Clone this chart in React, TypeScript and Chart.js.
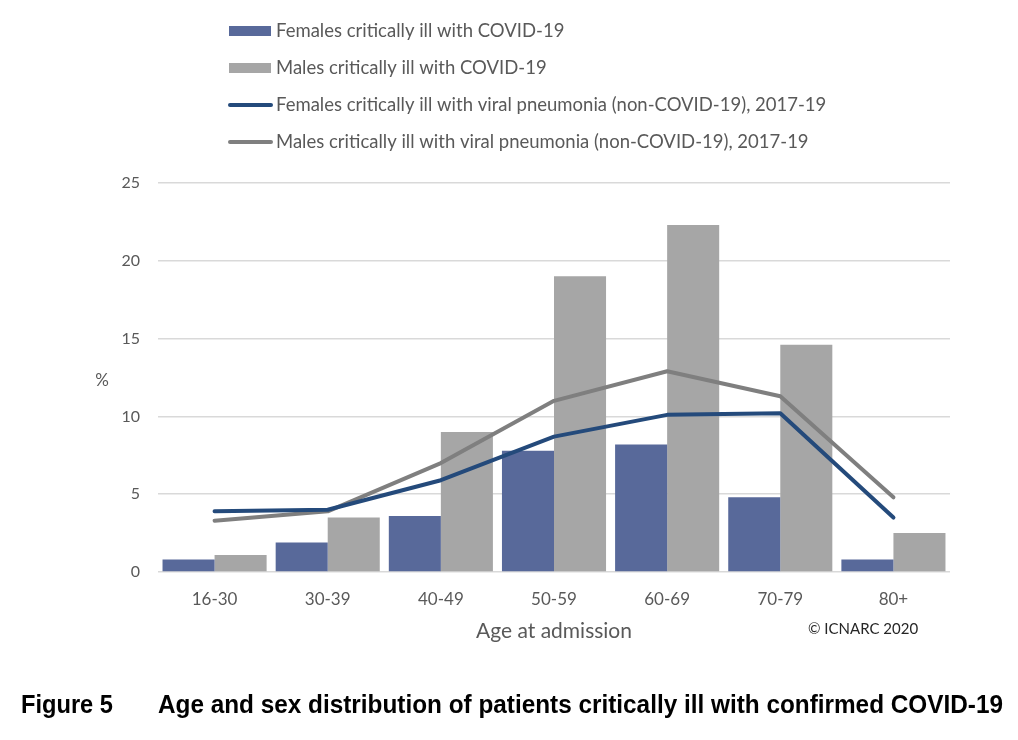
import React, { useEffect, useRef } from "react";
import { Chart, registerables } from "chart.js";

Chart.register(...registerables);

const categories = ["16-30", "30-39", "40-49", "50-59", "60-69", "70-79", "80+"];
const femalesCovid = [0.8, 1.9, 3.6, 7.8, 8.2, 4.8, 0.8];
const malesCovid = [1.1, 3.5, 9.0, 19.0, 22.3, 14.6, 2.5];
const femalesPneumonia = [3.9, 4.0, 5.9, 8.7, 10.1, 10.2, 3.5];
const malesPneumonia = [3.3, 3.9, 7.0, 11.0, 12.9, 11.3, 4.8];
const yTicks = [0, 5, 10, 15, 20, 25];

const seriesLabels = [
  "Females critically ill with COVID-19",
  "Males critically ill with COVID-19",
  "Females critically ill with viral pneumonia (non-COVID-19), 2017-19",
  "Males critically ill with viral pneumonia (non-COVID-19), 2017-19",
];

const FEMALE_BAR = "#58699A";
const MALE_BAR = "#A6A6A6";
const FEMALE_LINE = "#244A7B";
const MALE_LINE = "#7F7F7F";
const TEXT = "#595959";

function fitText(ctx: any, text: string, x: number, y: number, width: number) {
  const w = ctx.measureText(text).width;
  ctx.save();
  ctx.translate(x, y);
  ctx.scale(width / w, 1);
  ctx.fillText(text, 0, 0);
  ctx.restore();
}

const extrasPlugin = {
  id: "extras",
  beforeDraw(chart: any) {
    const ctx = chart.ctx;
    ctx.save();
    ctx.fillStyle = "#ffffff";
    ctx.fillRect(0, 0, chart.width, chart.height);
    ctx.restore();
  },
  afterDraw(chart: any) {
    const ctx = chart.ctx;
    ctx.save();
    // legend
    const rows = [31, 68, 105, 142];
    chart.data.datasets.forEach((ds: any, i: number) => {
      const y = rows[i];
      if (ds.type === "line") {
        ctx.strokeStyle = ds.borderColor;
        ctx.lineWidth = 4;
        ctx.lineCap = "round";
        ctx.beginPath();
        ctx.moveTo(230, y);
        ctx.lineTo(271, y);
        ctx.stroke();
      } else {
        ctx.fillStyle = ds.backgroundColor;
        ctx.fillRect(229, y - 5, 42, 10);
      }
      ctx.fillStyle = TEXT;
      ctx.font = "18.5px Lato";
      ctx.textBaseline = "middle";
      ctx.textAlign = "left";
      ctx.fillText(ds.label, 276, y);
    });
    // y axis title
    ctx.fillStyle = TEXT;
    ctx.font = "17px Lato";
    ctx.textAlign = "center";
    ctx.textBaseline = "middle";
    ctx.fillText("%", 102, 381);
    // copyright
    ctx.fillStyle = "#262626";
    ctx.font = "15px Lato";
    ctx.textAlign = "left";
    ctx.fillText("\u00A9 ICNARC 2020", 808, 629);
    // caption
    ctx.fillStyle = "#000000";
    ctx.font = "bold 25px 'Liberation Sans'";
    ctx.textAlign = "left";
    ctx.textBaseline = "alphabetic";
    fitText(ctx, "Figure 5", 21, 713, 92);
    fitText(
      ctx,
      "Age and sex distribution of patients critically ill with confirmed COVID-19",
      158,
      713,
      845
    );
    ctx.restore();
  },
};

export default function App() {
  const ref = useRef<HTMLCanvasElement | null>(null);

  useEffect(() => {
    document.body.style.margin = "0";
    const canvas = ref.current;
    if (!canvas) return;
    const chart = new Chart(canvas, {
      type: "bar",
      data: {
        labels: categories,
        datasets: [
          {
            type: "bar",
            label: seriesLabels[0],
            data: femalesCovid,
            backgroundColor: FEMALE_BAR,
            categoryPercentage: 0.92,
            barPercentage: 1.0,
            order: 1,
          },
          {
            type: "bar",
            label: seriesLabels[1],
            data: malesCovid,
            backgroundColor: MALE_BAR,
            categoryPercentage: 0.92,
            barPercentage: 1.0,
            order: 1,
          },
          {
            type: "line",
            label: seriesLabels[2],
            data: femalesPneumonia,
            borderColor: FEMALE_LINE,
            backgroundColor: FEMALE_LINE,
            borderWidth: 4,
            pointRadius: 0,
            tension: 0,
            borderCapStyle: "round",
            borderJoinStyle: "round",
            order: 0,
          },
          {
            type: "line",
            label: seriesLabels[3],
            data: malesPneumonia,
            borderColor: MALE_LINE,
            backgroundColor: MALE_LINE,
            borderWidth: 4,
            pointRadius: 0,
            tension: 0,
            borderCapStyle: "round",
            borderJoinStyle: "round",
            order: 0,
          },
        ] as any,
      },
      options: {
        animation: false,
        responsive: true,
        maintainAspectRatio: false,
        layout: { padding: { top: 183, right: 68, bottom: 90, left: 0 } },
        plugins: {
          legend: { display: false },
          tooltip: { enabled: false },
          title: { display: false },
        },
        scales: {
          x: {
            grid: { display: false, drawTicks: false },
            border: { display: false },
            ticks: {
              color: TEXT,
              font: { family: "Lato", size: 17 },
              padding: 17,
              maxRotation: 0,
            },
            title: {
              display: true,
              text: "Age at admission",
              color: TEXT,
              font: { family: "Lato", size: 21 },
              padding: { top: 0, bottom: 6 },
            },
            afterFit(scale: any) {
              scale.height = 78;
            },
          },
          y: {
            min: 0,
            max: 25,
            afterBuildTicks(scale: any) {
              scale.ticks = yTicks.map((v) => ({ value: v }));
            },
            grid: { color: "#D9D9D9", lineWidth: 1.5, drawTicks: false },
            border: { display: false },
            ticks: {
              color: TEXT,
              font: { family: "Lato", size: 16 },
              padding: 18,
            },
            afterFit(scale: any) {
              scale.width = 158;
            },
          },
        },
      },
      plugins: [extrasPlugin],
    });
    return () => chart.destroy();
  }, []);

  return (
    <div style={{ position: "absolute", left: 0, top: 0, width: 1018, height: 740 }}>
      <canvas ref={ref} />
    </div>
  );
}
